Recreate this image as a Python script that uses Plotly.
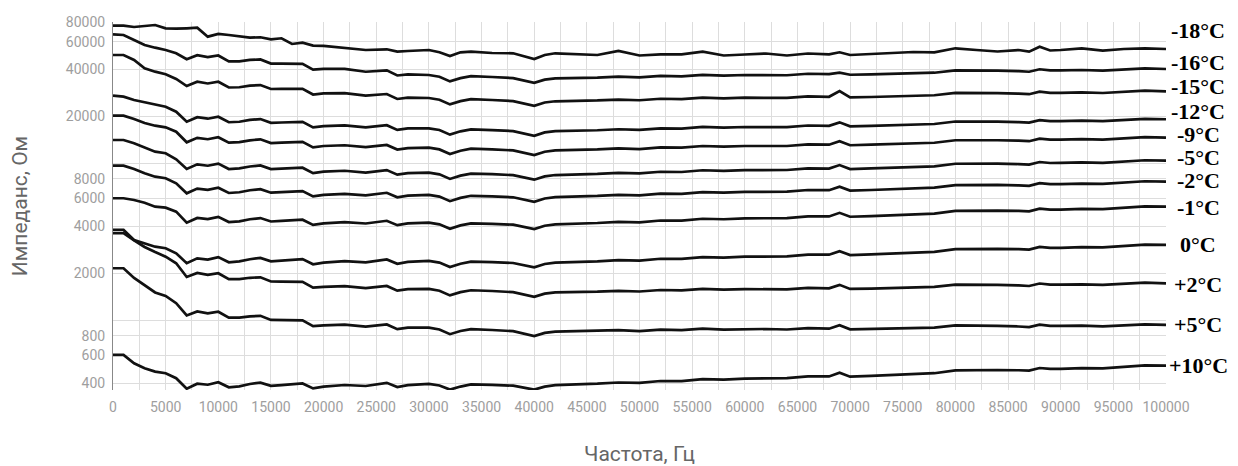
import math
import plotly.graph_objects as go

freq = [0,1000,2000,3000,4000,5000,6000,7000,8000,9000,10000,11000,12000,13000,14000,15000,16000,17000,18000,19000,20000,
        22000,24000,26000,27000,28000,
        30000,31000,32000,33000,34000,36000,38000,
        40000,41000,42000,44000,46000,48000,
        50000,52000,54000,56000,58000,60000,62000,64000,66000,68000,
        69000,70000,72000,74000,76000,78000,
        80000,82000,84000,86000,87000,88000,89000,
        90000,92000,94000,96000,98000,100000]

z_m18 = [75780,75780,74340,75780,76550,72950,72520,72950,73590,64490,67090,66120,64490,63560,63920,62080,63000,57940,59060,56520,56270,
         54390,53050,53590,51740,52280,
         53050,51290,48580,51290,51740,50760,50540,
         46490,49300,50540,50030,49300,52280,
         48940,49810,49810,51740,48940,49660,50400,48940,50400,49810,
         51290,49300,50030,50540,51510,51290,
         54390,53050,51890,53050,51740,55690,52670,
         53050,54240,52510,53830,54390,53830]
z_m16 = [66780,66110,61440,57080,54870,53060,50540,46290,49160,47800,48930,44860,44920,45850,46190,43470,43410,43270,43330,39730,40250,
         40190,38560,39350,36500,37090,
         36760,35830,33450,35090,36100,35680,35100,
         32750,34350,34980,35120,35380,35840,
         35460,36250,36020,36870,36440,36750,36850,36620,37440,37210,
         38000,36880,37090,37300,37510,38000,
         39360,39410,39220,38870,38550,39970,39350,
         39310,39540,39180,39990,40510,40140]
z_m15 = [49300,49300,45810,40550,38590,37140,34660,31270,33290,32440,33290,30590,30710,31410,31720,29930,29960,29930,30040,27610,28040,
         28130,27120,27800,25850,26340,
         26220,25560,23870,25040,25770,25470,25060,
         23390,24540,24990,25100,25290,25630,
         25370,25940,25790,26400,26100,26330,26410,26260,26840,26690,
         29000,26460,26620,26780,26930,27300,
         28280,28320,28200,27950,27730,28750,28310,
         28290,28460,28210,28800,29190,28930]
z_m12 = [27130,26730,25470,24620,23660,23090,21450,18520,19780,19350,19920,18370,18500,19000,19240,18220,18300,18350,18480,17040,17370,
         17540,17030,17580,16410,16770,
         16810,16400,15320,16080,16550,16380,16130,
         15070,15820,16120,16200,16340,16580,
         16420,16800,16730,17140,16960,17130,17200,17110,17510,17430,
         18340,17290,17410,17530,17650,17910,
         18570,18620,18560,18410,18270,18950,18670,
         18670,18800,18650,19060,19330,19190]
z_m9 = [20220,20220,19270,18170,17460,17060,15990,13690,14620,14320,14750,13620,13720,14090,14300,13540,13610,13660,13770,12710,12960,
        13110,12750,13170,12310,12580,
        12640,12330,11520,12100,12460,12330,12150,
        11360,11920,12150,12220,12330,12510,
        12400,12700,12640,12960,12830,12960,13020,12960,13270,13210,
        13910,13110,13210,13310,13400,13600,
        14110,14150,14110,14010,13910,14430,14220,
        14220,14320,14220,14530,14750,14640]
z_m5 = [14160,14160,13490,12720,11930,11650,10670,9254,9902,9703,10010,9248,9331,9597,9742,9241,9297,9340,9424,8709,8889,
        9012,8781,9099,8507,8711,
        8764,8552,7997,8397,8651,8570,8452,
        7907,8302,8466,8523,8606,8740,
        8670,8884,8853,9084,8999,9099,9147,9114,9339,9307,
        9801,9245,9322,9399,9475,9624,
        9993,10030,10010,9944,9875,10250,10100,
        10110,10190,10130,10360,10520,10450]
z_m2 = [9712,9712,9254,8685,8264,8072,7503,6477,6940,6809,7032,6506,6573,6769,6879,6534,6583,6621,6689,6190,6326,
        6429,6281,6525,6108,6262,
        6318,6167,5768,6058,6243,6188,6106,
        5715,6003,6123,6168,6231,6332,
        6285,6443,6424,6595,6537,6613,6652,6631,6798,6779,
        7141,6739,6798,6858,6917,7029,
        7302,7335,7323,7279,7230,7507,7402,
        7407,7473,7428,7604,7726,7681]
z_m1 = [6020,6020,5871,5642,5321,5243,4944,4207,4512,4432,4582,4244,4292,4425,4502,4281,4318,4348,4397,4073,4167,
        4245,4156,4327,4055,4161,
        4207,4108,3845,4041,4166,4135,4085,
        3828,4022,4105,4140,4187,4259,
        4232,4344,4336,4456,4423,4479,4510,4502,4620,4612,
        4861,4590,4636,4682,4727,4810,
        5002,5030,5027,5003,4972,5166,5097,
        5103,5154,5129,5257,5348,5321]
z_0 = [3780,3780,3265,3101,2958,2890,2685,2319,2491,2450,2537,2353,2384,2461,2507,2388,2411,2432,2463,2285,2341,
       2392,2348,2452,2301,2366,
       2399,2342,2192,2304,2375,2358,2329,
       2183,2293,2341,2361,2387,2429,
       2413,2477,2472,2541,2522,2554,2572,2567,2634,2630,
       2772,2617,2643,2670,2695,2743,
       2852,2868,2866,2853,2835,2946,2906,
       2910,2939,2925,2998,3049,3034]
z_p2 = [3602,3602,3240,2945,2737,2555,2319,1897,2014,1957,2003,1835,1837,1874,1887,1775,1772,1766,1767,1620,1640,
        1657,1609,1662,1551,1586,
        1591,1550,1447,1518,1561,1543,1517,
        1416,1485,1512,1518,1529,1548,
        1532,1566,1556,1592,1573,1587,1591,1581,1615,1605,
        1689,1591,1600,1609,1617,1639,
        1697,1699,1690,1675,1661,1723,1696,
        1694,1703,1688,1723,1744,1728]
z_p5 = [2155,2155,1869,1674,1511,1435,1290,1078,1144,1112,1138,1043,1044,1065,1072,1009,1007,1004,1004,921,932,
        942,914,944,881,901,
        901,877,819,858,882,871,856,
        797,835,850,853,858,868,
        857,875,868,888,876,882,884,877,895,888,
        934,879,883,887,891,901,
        932,932,926,917,908,941,926,
        925,928,919,936,947,938]
z_p10 = [603.7,603.7,534.6,496.9,472.7,461.7,429.1,367.8,395.7,389.9,404.3,375.6,381.0,394.1,402.1,383.6,388.0,391.9,397.6,369.5,379.1,
         388.6,382.8,400.9,376.9,388.0,
         394.7,385.7,363.1,379.7,391.7,389.1,384.7,
         362.8,379.4,387.4,391.0,395.9,403.1,
         400.9,411.9,411.6,423.4,420.6,426.4,429.8,429.3,441.1,440.7,
         464.7,439.0,443.8,448.7,453.5,461.8,
         480.8,483.9,484.1,482.3,479.6,498.4,492.0,
         492.9,498.3,496.3,509.2,518.5,516.4]

series_names = ["-18°C", "-16°C", "-15°C", "-12°C", "-9°C", "-5°C", "-2°C", "-1°C", "0°C", "+2°C", "+5°C", "+10°C"]
series_values = [z_m18, z_m16, z_m15, z_m12, z_m9, z_m5, z_m2, z_m1, z_0, z_p2, z_p5, z_p10]
label_y = [71140, 44480, 30830, 21360, 15460, 11030, 7759, 5220, 3033, 1687, 937.6, 513.6]

y_tickvals = [400, 600, 800, 1000, 2000, 4000, 6000, 8000, 10000, 20000, 40000, 60000, 80000]
y_ticktext = ["400", "600", "800", "", "2000", "4000", "6000", "8000", "", "20000", "40000", "60000", "80000"]

fig = go.Figure()
for name, vals in zip(series_names, series_values):
    fig.add_trace(go.Scatter(x=freq, y=vals, mode="lines", name=name,
                             line=dict(color="#111111", width=2.7), showlegend=False))

annotations = []
for name, ly in zip(series_names, label_y):
    annotations.append(dict(x=1.0304, xref="paper", y=math.log10(ly), yref="y",
                            text="<b>" + name + "</b>", showarrow=False,
                            xanchor="center", yanchor="middle",
                            font=dict(family="Liberation Serif", size=22, color="#000000")))

fig.update_layout(
    width=1238, height=466,
    margin=dict(l=113, r=72, t=22, b=76),
    paper_bgcolor="white", plot_bgcolor="white",
    font=dict(family="Roboto", color="#999999"),
    annotations=annotations,
    hovermode=False,
    xaxis=dict(range=[0, 100000], tick0=0, dtick=5000, tickformat="d", automargin=False,
               showgrid=True, gridcolor="#dddddd", gridwidth=1,
               minor=dict(dtick=2500, tick0=0, showgrid=True, gridcolor="#dddddd", gridwidth=1),
               zeroline=False, showline=False, ticks="", ticklabelstandoff=7,
               tickfont=dict(family="Roboto", size=14, color="#9e9e9e"),
               title=dict(text="Частота, Гц", font=dict(family="Roboto", size=21, color="#666666"), standoff=36)),
    yaxis=dict(type="log", range=[math.log10(361), math.log10(80000)], automargin=False,
               tickmode="array", tickvals=y_tickvals, ticktext=y_ticktext,
               showgrid=True, gridcolor="#dddddd", gridwidth=1,
               zeroline=False, showline=True, linecolor="#888888", linewidth=1, ticks="", ticklabelstandoff=4,
               tickfont=dict(family="Roboto", size=14, color="#9e9e9e"),
               title=dict(text="Импеданс, Ом", font=dict(family="Roboto", size=21, color="#666666"), standoff=32)),
)

fig.write_html("out.html", config={"displayModeBar": False},
               post_script="document.body.style.margin='0px';")
